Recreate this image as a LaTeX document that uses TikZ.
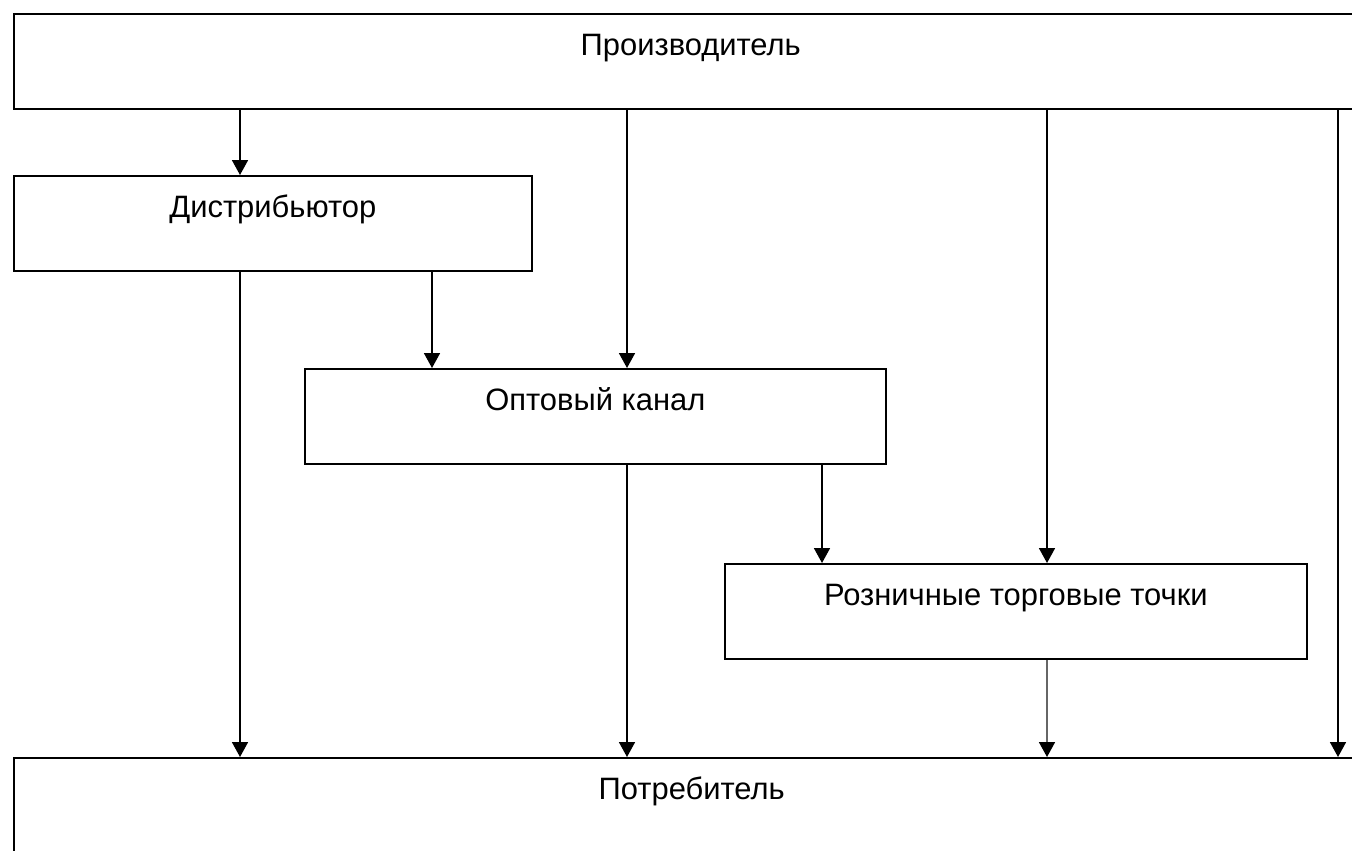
\documentclass[tikz,border=0pt]{standalone}
\usepackage{fontspec}
\setmainfont{Liberation Sans}
\usetikzlibrary{arrows.meta}

\begin{document}
\begin{tikzpicture}[
    x=0.02cm, y=-0.02cm,
    box/.style={%
      draw,
      rectangle,
      line width=1pt,
      anchor=north west,
      inner sep=0pt,
      text height=0.84cm,
      text depth=1.06cm,
      font=\fontsize{17.6pt}{20pt}\selectfont,
    },
    arr/.style={%
      line width=1pt,
      -{Triangle[width=0.32cm,length=0.3cm,color=black]},
    },
  ]

    \clip (0,0) rectangle (1352,850);

    \node [box, minimum width=27.08cm] (prod) at (13,13) {Производитель};
    \node [box, minimum width=10.36cm] (dist) at (13,175) {Дистрибьютор};
    \node [box, minimum width=11.62cm] (opt) at (304,368) {Оптовый канал};
    \node [box, minimum width=11.64cm] (rozn) at (724,563) {Розничные торговые точки};
    \node [box, minimum width=27.12cm, text depth=3cm] (potr) at (13,757) {Потребитель};

    % columns of the arrows
    \coordinate (c1) at (240,0);
    \coordinate (c2) at (432,0);
    \coordinate (c3) at (627,0);
    \coordinate (c4) at (822,0);
    \coordinate (c5) at (1047,0);
    \coordinate (c6) at (1338,0);

    \draw [arr] (prod.south -| c1) -- (dist.north -| c1);
    \draw [arr] (prod.south -| c3) -- (opt.north -| c3);
    \draw [arr] (prod.south -| c5) -- (rozn.north -| c5);
    \draw [arr] (prod.south -| c6) -- (potr.north -| c6);
    \draw [arr] (dist.south -| c1) -- (potr.north -| c1);
    \draw [arr] (dist.south -| c2) -- (opt.north -| c2);
    \draw [arr] (opt.south -| c3) -- (potr.north -| c3);
    \draw [arr] (opt.south -| c4) -- (rozn.north -| c4);
    \draw [arr, black!60] (rozn.south -| c5) -- (potr.north -| c5);
\end{tikzpicture}
\end{document}
